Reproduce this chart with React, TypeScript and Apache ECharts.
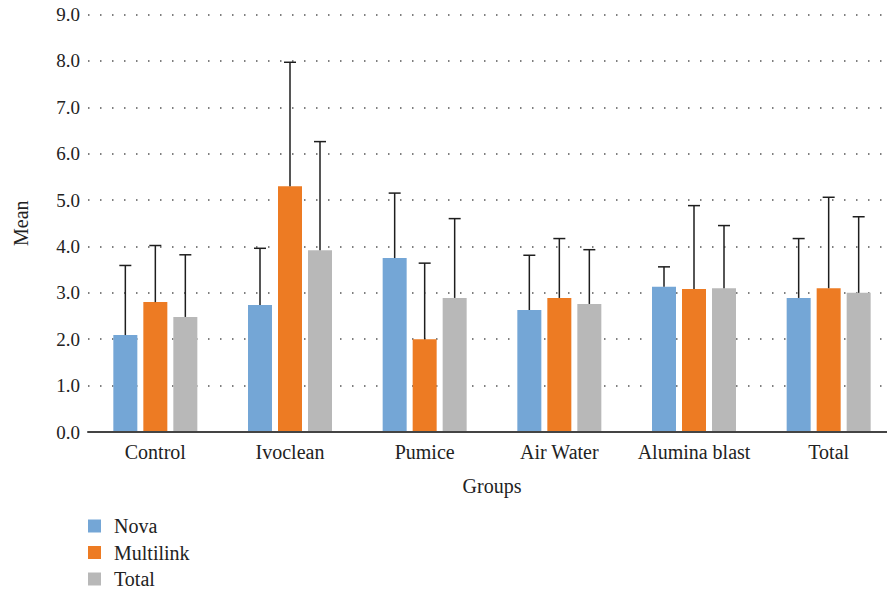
import React, { useEffect, useRef } from "react";
import * as echarts from "echarts";

const categories = ["Control", "Ivoclean", "Pumice", "Air Water", "Alumina blast", "Total"];
const seriesNames = ["Nova", "Multilink", "Total"];
const novaMean = [2.09, 2.74, 3.75, 2.63, 3.13, 2.89];
const novaUpper = [3.59, 3.96, 5.15, 3.81, 3.56, 4.17];
const multilinkMean = [2.8, 5.3, 2.0, 2.89, 3.08, 3.1];
const multilinkUpper = [4.02, 7.97, 3.64, 4.17, 4.88, 5.06];
const totalMean = [2.48, 3.92, 2.89, 2.76, 3.1, 3.0];
const totalUpper = [3.82, 6.26, 4.6, 3.93, 4.45, 4.64];
const yTicks = [0, 1, 2, 3, 4, 5, 6, 7, 8, 9];

const colors = ["#74a6d6", "#ed7b23", "#b8b8b8"];
const FONT = "Liberation Serif";

export default function App() {
  const ref = useRef<HTMLDivElement>(null);
  useEffect(() => {
    if (!ref.current) return;
    const chart = echarts.init(ref.current, null, { renderer: "svg" });
    const means = [novaMean, multilinkMean, totalMean];
    const uppers = [novaUpper, multilinkUpper, totalUpper];
    const barW = 24;
    const step = 30;
    const offsets = [-step, 0, step];

    const barSeries = seriesNames.map((name, i) => ({
      name,
      type: "bar",
      data: means[i],
      barWidth: barW,
      barGap: "25%",
      itemStyle: { color: colors[i] },
      z: 2,
    }));

    const errSeries = seriesNames.map((name, i) => ({
      name: name + " error",
      type: "custom",
      data: categories.map((_, k) => [k, means[i][k], uppers[i][k]]),
      encode: { x: 0, y: 2 },
      z: 3,
      renderItem: (params: any, api: any) => {
        const k = api.value(0);
        const m = api.value(1);
        const u = api.value(2);
        const b = api.coord([k, m]);
        const t = api.coord([k, u]);
        const x = b[0] + offsets[i];
        const style = { stroke: "#1e1e1e", lineWidth: 1.5 };
        return {
          type: "group",
          children: [
            { type: "line", shape: { x1: x, y1: b[1], x2: x, y2: t[1] }, style },
            { type: "line", shape: { x1: x - 6, y1: t[1], x2: x + 6, y2: t[1] }, style },
          ],
        };
      },
    }));

    chart.setOption({
      animation: false,
      textStyle: { fontFamily: FONT },
      grid: { left: 88, top: 14.5, width: 808, height: 417.5, containLabel: false },
      legend: {
        data: seriesNames,
        orient: "vertical",
        left: 88,
        top: 516,
        padding: 0,
        height: 80,
        itemWidth: 13,
        itemHeight: 13,
        itemGap: 6.5,
        icon: "rect",
        textStyle: { fontFamily: FONT, fontSize: 20, color: "#222", padding: [0, 0, 0, 8] },
      },
      xAxis: {
        type: "category",
        data: categories,
        name: "Groups",
        nameLocation: "middle",
        nameGap: 44,
        nameTextStyle: { fontFamily: FONT, fontSize: 20, color: "#222" },
        axisLine: { show: true, lineStyle: { color: "#444", width: 2 } },
        axisTick: { show: false },
        axisLabel: { fontFamily: FONT, fontSize: 20, color: "#222", margin: 10, interval: 0 },
        z: 5,
      },
      yAxis: {
        type: "value",
        min: yTicks[0],
        max: yTicks[yTicks.length - 1],
        interval: 1,
        name: "Mean",
        nameLocation: "middle",
        nameGap: 57,
        nameTextStyle: { fontFamily: FONT, fontSize: 20, color: "#222" },
        axisLine: { show: false },
        axisTick: { show: false },
        axisLabel: {
          fontFamily: FONT,
          fontSize: 19,
          color: "#222",
          margin: 8,
          formatter: (v: number) => v.toFixed(1),
        },
        splitLine: { show: true, lineStyle: { color: "#555", width: 1.5, type: [1.5, 10.5] } },
      },
      series: [...barSeries, ...errSeries],
    });
    return () => chart.dispose();
  }, []);
  return (
    <div
      style={{
        position: "fixed",
        left: 0,
        top: 0,
        width: 887,
        height: 593,
        overflow: "hidden",
        background: "#fff",
      }}
    >
      <div ref={ref} style={{ width: 910, height: 593 }} />
    </div>
  );
}
